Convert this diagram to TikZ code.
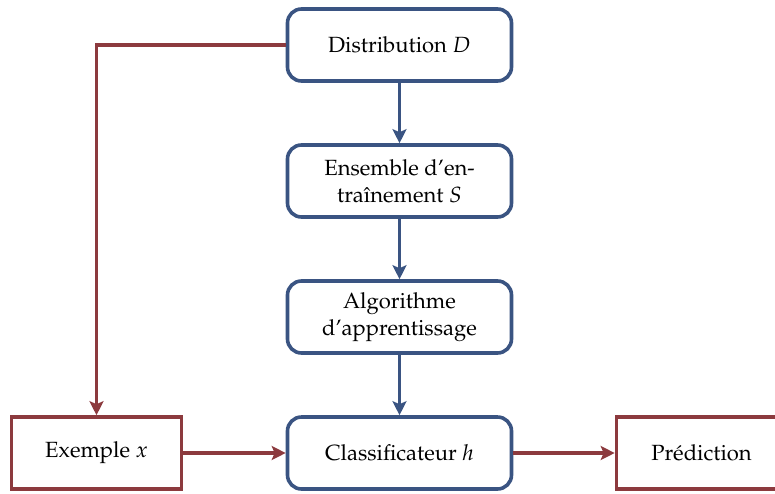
\documentclass[tikz,border=0pt]{standalone}
\usepackage[T1]{fontenc}
\usepackage{mathpazo}
\usetikzlibrary{arrows.meta}
\definecolor{flowblue}{RGB}{58,84,130}
\definecolor{flowred}{RGB}{140,58,62}
\tikzset{
  base/.style={line width=1.8pt, fill=white, align=center,
    font=\fontsize{11}{13.5}\selectfont, inner sep=2pt},
  bluebox/.style={base, draw=flowblue, rounded corners=7pt,
    minimum width=112pt, minimum height=36pt},
  redbox/.style={base, draw=flowred, minimum width=85pt, minimum height=36pt},
  bluearrow/.style={draw=flowblue, line width=1.8pt,
    -{Stealth[length=7pt,width=7pt,inset=1.5pt]}},
  redarrow/.style={draw=flowred, line width=1.8pt,
    -{Stealth[length=7pt,width=7pt,inset=1.5pt]}}
}
\begin{document}
\begin{tikzpicture}[x=0.5pt,y=-0.5pt]
  \useasboundingbox (0,0) rectangle (775,493);
  % main pipeline
  \node[bluebox] (dist) at (399.5,45) {Distribution $D$};
  \node[bluebox] (ens)  at (399.5,181) {Ensemble d'en-\\traînement $S$};
  \node[bluebox] (algo) at (399.5,317) {Algorithme\\d'apprentissage};
  \node[bluebox] (cls)  at (399.5,453) {Classificateur $h$};
  % input and output
  \node[redbox] (ex)   at (96.5,453) {Exemple $x$};
  \node[redbox] (pred) at (701.5,453) {Prédiction};
  \coordinate (corner) at (96.5,45);
  % connectors
  \draw[bluearrow] (dist) -- (ens);
  \draw[bluearrow] (ens) -- (algo);
  \draw[bluearrow] (algo) -- (cls);
  \draw[redarrow] (dist.west) -- (corner) -- (ex.north);
  \draw[redarrow] (ex) -- (cls);
  \draw[redarrow] (cls) -- (pred);
\end{tikzpicture}
\end{document}
